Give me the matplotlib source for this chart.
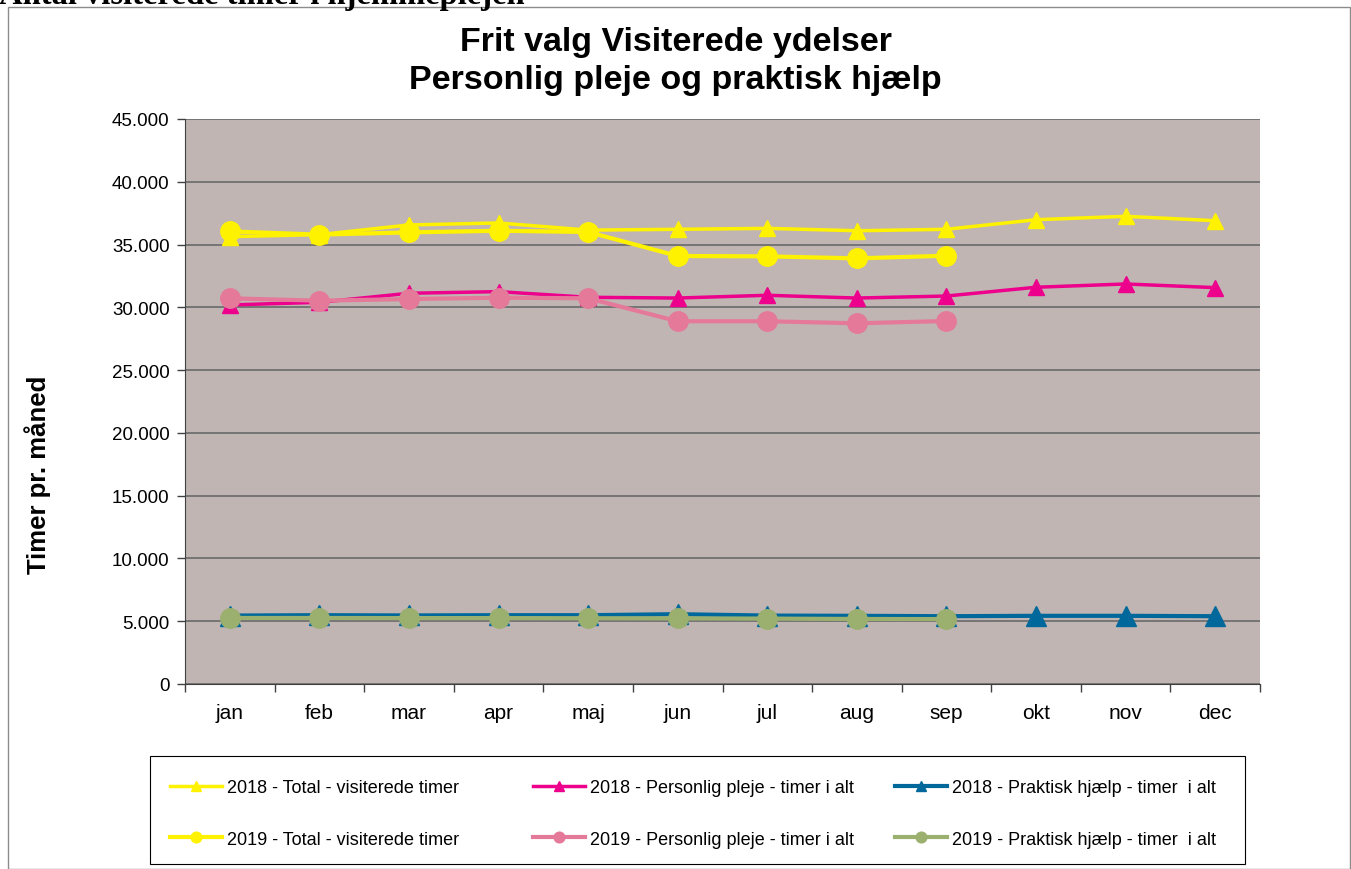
import matplotlib
matplotlib.use("Agg")
import matplotlib.pyplot as plt
from matplotlib.patches import Rectangle
from matplotlib.ticker import FuncFormatter, FixedLocator

months = ["jan", "feb", "mar", "apr", "maj", "jun", "jul", "aug", "sep", "okt", "nov", "dec"]

total_2018 = [35630, 35790, 36560, 36720, 36150, 36215, 36290, 36100, 36215, 36980, 37250, 36900]
total_2019 = [36050, 35790, 35970, 36100, 36000, 34090, 34060, 33900, 34110]
pers_2018 = [30190, 30400, 31120, 31250, 30800, 30740, 30960, 30740, 30900, 31600, 31860, 31570]
pers_2019 = [30720, 30530, 30660, 30770, 30720, 28890, 28890, 28730, 28910]
prak_2018 = [5450, 5480, 5460, 5480, 5480, 5560, 5450, 5430, 5400, 5430, 5430, 5400]
prak_2019 = [5260, 5260, 5250, 5250, 5240, 5230, 5210, 5180, 5170]

yticks = [0, 5000, 10000, 15000, 20000, 25000, 30000, 35000, 40000, 45000]

plt.rcParams["font.family"] = ["Liberation Sans", "DejaVu Sans"]

W, H = 1351, 870
fig = plt.figure(figsize=(W / 100, H / 100), dpi=100)
fig.patch.set_facecolor("white")

# outer chart frame
fig.patches.append(Rectangle((8 / W, 0), 1 - 8 / W - 1 / W, 1 - 8 / H, transform=fig.transFigure,
                             fill=False, edgecolor="#8c8c8c", linewidth=1.0))

# header text partly cut off at the top edge
fig.text(-1 / W, 1 - 4 / H, "Antal visiterede timer i hjemmeplejen", family="Liberation Serif",
         weight="bold", fontsize=23.5, ha="left", va="baseline")

ax = fig.add_axes([185 / W, 1 - 685 / H, (1260 - 185) / W, (685 - 120) / H])
ax.set_facecolor("#C0B5B2")

x18 = list(range(len(months)))
x19 = list(range(len(total_2019)))

l1, = ax.plot(x18, total_2018, color="#FFF200", lw=2.5, marker="^", ms=12, zorder=5,
              label="2018 - Total - visiterede timer")
l2, = ax.plot(x19, total_2019, color="#FFF200", lw=3.0, marker="o", ms=14, zorder=6,
              label="2019 - Total - visiterede timer")
l3, = ax.plot(x18, pers_2018, color="#EC008C", lw=2.5, marker="^", ms=12, zorder=5,
              label="2018 - Personlig pleje - timer i alt")
l4, = ax.plot(x19, pers_2019, color="#E5799A", lw=3.0, marker="o", ms=14, zorder=6,
              label="2019 - Personlig pleje - timer i alt")
l5, = ax.plot(x18, prak_2018, color="#00689B", lw=3.0, marker="^", ms=14, zorder=5,
              label="2018 - Praktisk hjælp - timer  i alt")
l6, = ax.plot(x19, prak_2019, color="#9BB06E", lw=3.0, marker="o", ms=14, zorder=6,
              label="2019 - Praktisk hjælp - timer  i alt")

ax.set_xlim(-0.5, len(months) - 0.5)
ax.set_ylim(0, 45000)
ax.set_yticks(yticks)
ax.yaxis.set_major_formatter(FuncFormatter(lambda v, p: "0" if v == 0 else f"{int(v):,}".replace(",", ".")))
ax.grid(axis="y", color="#707070", lw=1.3, zorder=1)
ax.set_axisbelow(True)

ax.set_xticks(x18)
ax.set_xticklabels(months)
ax.xaxis.set_minor_locator(FixedLocator([i - 0.5 for i in range(len(months) + 1)]))
ax.tick_params(axis="x", which="major", length=0, pad=14, labelsize=15)
ax.tick_params(axis="x", which="minor", length=6, color="#404040", width=1)
ax.tick_params(axis="y", length=6, color="#404040", width=1, labelsize=13.5, pad=5)

for s in ["top", "right"]:
    ax.spines[s].set_visible(False)
ax.spines["left"].set_color("#404040")
ax.spines["bottom"].set_color("#404040")

fig.text(38 / W, 1 - 475 / H, "Timer pr. måned", rotation=90, ha="center", va="center",
         fontsize=18.5, weight="bold")

fig.text(0.5, 1 - 43 / H, "Frit valg Visiterede ydelser", ha="center", va="center",
         fontsize=24.5, weight="bold")
fig.text(0.5, 1 - 80 / H, "Personlig pleje og praktisk hjælp", ha="center", va="center",
         fontsize=24.5, weight="bold")

# legend frame
fig.patches.append(Rectangle((150 / W, 1 - 865 / H), (1245 - 150) / W, (865 - 757) / H,
                             transform=fig.transFigure, fill=False, edgecolor="black", linewidth=0.8))

columns = [([l1, l2], 170), ([l3, l4], 533), ([l5, l6], 895)]
for hs, xpx in columns:
    lg = fig.legend(handles=hs, labels=[h.get_label() for h in hs], loc="center left",
                    bbox_to_anchor=(xpx / W, 1 - 814.5 / H), frameon=False, fontsize=13,
                    handlelength=2.9, handletextpad=0.28, labelspacing=1.9, borderpad=0,
                    borderaxespad=0, markerscale=0.55)

fig.savefig("out.png", dpi=100)
